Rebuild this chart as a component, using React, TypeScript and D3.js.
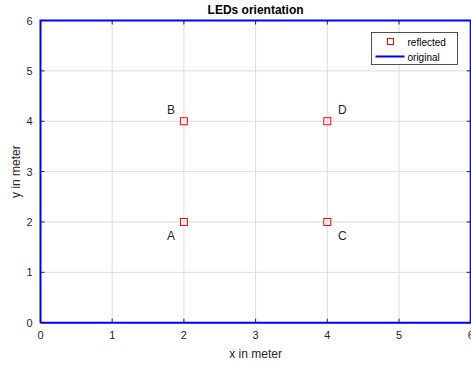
import { useEffect, useRef } from 'react';
import * as d3 from 'd3';

// chart data
const xTicks = [0, 1, 2, 3, 4, 5, 6];
const yTicks = [0, 1, 2, 3, 4, 5, 6];
const reflectedX = [2, 2, 4, 4];
const reflectedY = [2, 4, 2, 4];
const pointNames = ['A', 'B', 'C', 'D'];
const originalX = [0, 6, 6, 0, 0];
const originalY = [0, 0, 6, 6, 0];

const App = () => {
  const svgRef = useRef<SVGSVGElement>(null);

  useEffect(() => {
    const width = 471;
    const height = 369;
    const font = '"Liberation Sans", Arial, sans-serif';
    const axisColor = '#262626';

    const svg = d3.select(svgRef.current)
      .attr('width', width)
      .attr('height', height)
      .style('font-family', font);

    svg.selectAll('*').remove();

    const x = d3.scaleLinear().domain([0, 6]).range([40.5, 470.7]);
    const y = d3.scaleLinear().domain([0, 6]).range([322.7, 20.5]);

    svg.append('rect')
      .attr('width', width).attr('height', height).attr('fill', '#fff');

    // grid
    const grid = svg.append('g');
    grid.selectAll('line.gx')
      .data(xTicks)
      .enter().append('line')
      .attr('x1', d => x(d)).attr('x2', d => x(d))
      .attr('y1', y(0)).attr('y2', y(6))
      .attr('stroke', '#dcdcdc').attr('stroke-width', 1);
    grid.selectAll('line.gy')
      .data(yTicks)
      .enter().append('line')
      .attr('y1', d => y(d)).attr('y2', d => y(d))
      .attr('x1', x(0)).attr('x2', x(6))
      .attr('stroke', '#dcdcdc').attr('stroke-width', 1);

    // tick marks (inside, all four sides)
    const tl = 4;
    const ticks = svg.append('g').attr('stroke', axisColor).attr('stroke-width', 1);
    xTicks.forEach(t => {
      ticks.append('line').attr('x1', x(t)).attr('x2', x(t)).attr('y1', y(0)).attr('y2', y(0) - tl);
      ticks.append('line').attr('x1', x(t)).attr('x2', x(t)).attr('y1', y(6)).attr('y2', y(6) + tl);
    });
    yTicks.forEach(t => {
      ticks.append('line').attr('y1', y(t)).attr('y2', y(t)).attr('x1', x(0)).attr('x2', x(0) + tl);
      ticks.append('line').attr('y1', y(t)).attr('y2', y(t)).attr('x1', x(6)).attr('x2', x(6) - tl);
    });

    // tick labels
    svg.append('g').selectAll('text')
      .data(xTicks)
      .enter().append('text')
      .attr('x', d => x(d)).attr('y', y(0) + 16)
      .attr('text-anchor', 'middle')
      .attr('font-size', 11).attr('fill', axisColor)
      .text(d => d);
    svg.append('g').selectAll('text')
      .data(yTicks)
      .enter().append('text')
      .attr('x', x(0) - 8).attr('y', d => y(d) + 4)
      .attr('text-anchor', 'end')
      .attr('font-size', 11).attr('fill', axisColor)
      .text(d => d);

    // original outline
    const line = d3.line<number>()
      .x((d, i) => x(originalX[i]))
      .y(d => y(d));
    svg.append('path')
      .datum(originalY)
      .attr('d', line)
      .attr('fill', 'none')
      .attr('stroke', '#0000ff')
      .attr('stroke-width', 2);

    // reflected points
    svg.append('g').selectAll('rect')
      .data(reflectedX)
      .enter().append('rect')
      .attr('x', (d) => x(d) - 3.5)
      .attr('y', (d, i) => y(reflectedY[i]) - 3.5)
      .attr('width', 7).attr('height', 7)
      .attr('fill', 'none')
      .attr('stroke', '#ff0000')
      .attr('stroke-width', 1);

    // point names
    svg.append('g').selectAll('text')
      .data(pointNames)
      .enter().append('text')
      .attr('x', (d, i) => x(reflectedX[i]) + (reflectedX[i] < 3 ? -13 : 15))
      .attr('y', (d, i) => y(reflectedY[i]) + (reflectedY[i] < 3 ? 18 : -7))
      .attr('text-anchor', 'middle')
      .attr('font-size', 12).attr('fill', '#262626')
      .text(d => d);

    // title & axis labels
    svg.append('text')
      .attr('x', (x(0) + x(6)) / 2).attr('y', 14)
      .attr('text-anchor', 'middle')
      .attr('font-size', 12).attr('font-weight', 'bold').attr('fill', '#000')
      .text('LEDs orientation');
    svg.append('text')
      .attr('x', (x(0) + x(6)) / 2).attr('y', 358)
      .attr('text-anchor', 'middle')
      .attr('font-size', 12).attr('fill', axisColor)
      .text('x in meter');
    svg.append('text')
      .attr('transform', `translate(20,${(y(0) + y(6)) / 2}) rotate(-90)`)
      .attr('text-anchor', 'middle')
      .attr('font-size', 12).attr('fill', axisColor)
      .text('y in meter');

    // legend
    const lg = svg.append('g').attr('transform', 'translate(371.5,32.5)');
    lg.append('rect')
      .attr('width', 86).attr('height', 32)
      .attr('fill', '#fff').attr('stroke', '#262626').attr('stroke-width', 0.8);
    lg.append('rect')
      .attr('x', 16).attr('y', 6).attr('width', 6).attr('height', 6)
      .attr('fill', 'none').attr('stroke', '#ff0000');
    lg.append('line')
      .attr('x1', 4).attr('x2', 33).attr('y1', 24).attr('y2', 24)
      .attr('stroke', '#0000ff').attr('stroke-width', 2);
    lg.append('text').attr('x', 36).attr('y', 13)
      .attr('font-size', 10).attr('fill', '#000').text('reflected');
    lg.append('text').attr('x', 36).attr('y', 28)
      .attr('font-size', 10).attr('fill', '#000').text('original');
  }, []);

  return (
    <div style={{ position: 'absolute', left: 0, top: 0 }}>
      <svg ref={svgRef} style={{ display: 'block' }}></svg>
    </div>
  );
};

export default App;
